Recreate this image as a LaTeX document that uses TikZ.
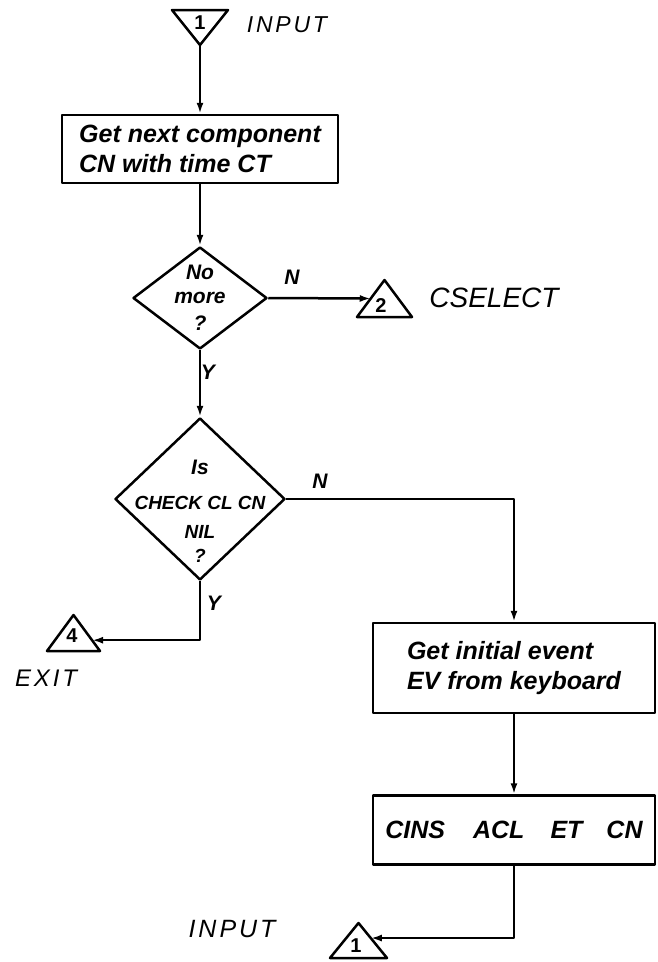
\documentclass[tikz,border=0pt]{standalone}
\usepackage{fontspec}
\setmainfont{Liberation Sans}
\newfontfamily\spaced{Liberation Sans}[LetterSpace=12]
\usetikzlibrary{shapes.geometric,arrows.meta,calc}
\begin{document}
\begin{tikzpicture}[x=1pt,y=-1pt, line width=2.5pt, line join=round,
  arr/.style={-{Latex[length=11pt,width=7pt]}},
  procbox/.style={draw, minimum width=282pt, inner sep=0pt, align=left,
    font=\bfseries\itshape\fontsize{25}{30}\selectfont},
  decision/.style={draw, diamond, inner sep=0pt},
  term/.style={inner sep=0pt, outer sep=0pt},
  dtext/.style={font=\bfseries\itshape\fontsize{21}{25}\selectfont, inner sep=0pt},
  ctext/.style={font=\bfseries\itshape\fontsize{19}{23}\selectfont, inner sep=0pt},
  lbl/.style={font=\spaced\itshape\fontsize{23}{27}\selectfont, inner sep=0pt},
  yn/.style={font=\bfseries\itshape\fontsize{21}{25}\selectfont, inner sep=0pt},
  num/.style={font=\bfseries\fontsize{20}{24}\selectfont, inner sep=0pt}]
\useasboundingbox (0,0) rectangle (657,962);

% process boxes
\node[procbox, minimum width=276pt, minimum height=68pt] (box1) at (200,149) {Get next component\\CN with time CT};
\node[procbox, minimum height=90pt] (box2) at (514,668) {Get initial event\\EV from keyboard};
\node[procbox, minimum height=69pt, align=center] (box3) at (514,830) {CINS\hspace{28pt}ACL\hspace{26pt}ET\hspace{24pt}CN};

% decisions
\node[decision, minimum width=134pt, minimum height=102pt] (d1) at (200,298) {};
\node[dtext] (d1a) at (200,272) {No};
\node[dtext] (d1b) at (200,298) {more};
\node[dtext] (d1c) at (200,323) {?};

\node[decision, minimum width=170pt, minimum height=162pt] (d2) at (200,499) {};
\node[dtext] (d2a) at (200,467) {Is};
\node[ctext] (d2b) at (200,503) {CHECK CL CN};
\node[ctext] (d2c) at (200,532) {NIL};
\node[ctext] (d2d) at (200,556) {?};

% connector symbols
\node[term, minimum width=56pt, minimum height=35pt] (tin) at (200,27.5) {};
\draw (tin.north west) -- (tin.north east) -- (tin.south) -- cycle;
\node[num] (tinn) at (200,23) {1};
\node[lbl] (linput) at (287,25) {INPUT};

\node[term, minimum width=55pt, minimum height=37pt] (t2) at (384.5,298.5) {};
\draw (t2.south west) -- (t2.north) -- (t2.south east) -- cycle;
\node[num] (t2n) at (381,306) {2};
\node[lbl, font=\itshape\fontsize{28}{32}\selectfont] (lcsel) at (494,298) {CSELECT};

\node[term, minimum width=53pt, minimum height=36pt] (t4) at (73.5,633) {};
\draw (t4.south west) -- (t4.north) -- (t4.south east) -- cycle;
\node[num] (t4n) at (72,636) {4};
\node[lbl, font=\spaced\itshape\fontsize{24}{28}\selectfont] (lexit) at (46,678) {EXIT};

\node[term, minimum width=57pt, minimum height=35pt] (t1b) at (358.5,940.5) {};
\draw (t1b.south west) -- (t1b.north) -- (t1b.south east) -- cycle;
\node[num] (t1bn) at (356,946) {1};
\node[lbl, font=\spaced\itshape\fontsize{25}{29}\selectfont] (linput2) at (232,929) {INPUT};

% branch labels
\node[yn] (n1) at (292,277) {N};
\node[yn] (y1) at (208,372) {Y};
\node[yn] (n2) at (320,481) {N};
\node[yn] (y2) at (214,603) {Y};

% connectors
\draw[arr] (tin.south) -- (box1.north);
\draw[arr] (box1.south) -- (d1.north);
\draw[arr] (d1.east) -- ($(t2.south west)!0.5!(t2.north)$);
\draw[arr] (d1.south) -- (d2.north);
\draw[arr] (d2.east) -| (box2.north);
\draw[arr] (d2.south) |- ($(t4.south east)!0.3!(t4.north)$);
\draw[arr] (box2.south) -- (box3.north);
\draw[arr] (box3.south) |- ($(t1b.south east)!0.57!(t1b.north)$);
\end{tikzpicture}
\end{document}
